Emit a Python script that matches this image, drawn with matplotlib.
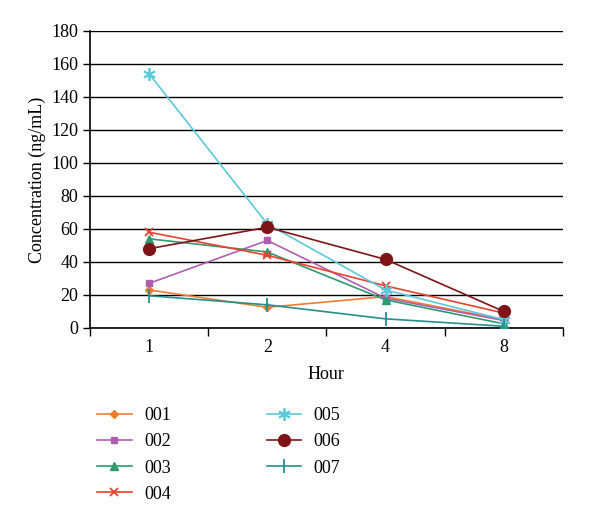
import matplotlib
matplotlib.use("Agg")
import matplotlib.pyplot as plt
import numpy as np

plt.rcParams['font.family'] = ['Liberation Serif', 'DejaVu Serif']

hours = ["1", "2", "4", "8"]
s001 = [23, 12.5, 19, 5]
s002 = [27, 53, 18, 4.5]
s003 = [54, 46, 17, 2.5]
s004 = [58, 44, 25.5, 9]
s005 = [154, 63, 23, 5]
s006 = [48, 61, 41.5, 10]
s007 = [19.5, 14, 5.5, 1]
names = ["001", "002", "003", "004", "005", "006", "007"]
series = [s001, s002, s003, s004, s005, s006, s007]

colors = ["#F07C32", "#B05FB0", "#2E9B6E", "#E8412F", "#5BC8DC", "#7F1417", "#23908E"]
markers = ["D", "s", "^", "x", (6, 2, 0), "o", "|"]
msizes = [4, 5, 6, 6, 9, 8.5, 10]

fig = plt.figure(figsize=(6, 5.23), dpi=100)
ax = fig.add_axes([0.15, 0.373, 0.788, 0.568])
x = np.arange(len(hours))
for i, (n, s) in enumerate(zip(names, series)):
    ax.plot(x, s, color=colors[i], marker=markers[i], markersize=msizes[i], lw=1.2,
            label=n, markeredgewidth=1.3 if i in (3, 4, 6) else 1, zorder=3)

ax.set_xlim(-0.5, 3.5)
ax.set_ylim(0, 180)
ax.set_yticks(np.arange(0, 181, 20))
ax.set_xticks(x)
ax.set_xticklabels(hours)
ax.set_xticks(np.arange(-0.5, 3.6, 1), minor=True)
ax.tick_params(axis='x', which='major', length=0, pad=8, labelsize=13)
ax.tick_params(axis='x', which='minor', length=6, direction='out', width=1)
ax.tick_params(axis='y', length=5, direction='out', labelsize=13, width=1)
ax.grid(axis='y', color='black', lw=1)
ax.set_axisbelow(True)
for sp in ['top', 'right']:
    ax.spines[sp].set_visible(False)
ax.spines['left'].set_color('black')
ax.spines['bottom'].set_color('black')
ax.spines['left'].set_linewidth(1.2)
ax.spines['bottom'].set_linewidth(1.2)
ax.set_ylabel("Concentration (ng/mL)", fontsize=13)
ax.set_xlabel("Hour", fontsize=13, labelpad=7)

leg = fig.legend(loc='upper left', bbox_to_anchor=(0.135, 0.252), ncol=2,
                 frameon=False, fontsize=13, handlelength=1.9, handletextpad=0.7,
                 columnspacing=5.3, labelspacing=0.5)
fig.savefig("out.png", dpi=100)
